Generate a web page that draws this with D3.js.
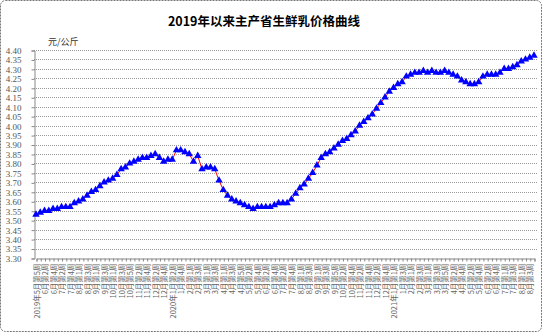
<!DOCTYPE html>
<html>
<head>
<meta charset="utf-8">
<script src="https://cdn.jsdelivr.net/npm/d3@7"></script>
<style>
  body { margin: 0; background: #fff; }
  svg { display: block; }
</style>
</head>
<body>
<div id="chart"></div>
<script>
"use strict";

// weekly price, 元/公斤
const prices = [
  3.53, 3.54, 3.55, 3.55, 3.56, 3.56, 3.57, 3.57, 3.57, 3.59, 3.60, 3.61, 3.63, 3.65, 3.66, 3.68,
  3.70, 3.71, 3.72, 3.74, 3.77, 3.78, 3.80, 3.81, 3.82, 3.83, 3.83, 3.84, 3.85, 3.83, 3.81, 3.82,
  3.82, 3.87, 3.87, 3.86, 3.85, 3.81, 3.84, 3.77, 3.78, 3.78, 3.77, 3.71, 3.66, 3.63, 3.61, 3.60,
  3.59, 3.58, 3.57, 3.56, 3.57, 3.57, 3.57, 3.57, 3.58, 3.59, 3.59, 3.59, 3.61, 3.64, 3.67, 3.69,
  3.72, 3.75, 3.79, 3.83, 3.85, 3.86, 3.88, 3.90, 3.92, 3.93, 3.95, 3.97, 4.00, 4.02, 4.04, 4.06,
  4.09, 4.12, 4.15, 4.18, 4.20, 4.22, 4.23, 4.26, 4.27, 4.28, 4.28, 4.29, 4.28, 4.29, 4.28,
  4.28, 4.29, 4.28, 4.27, 4.26, 4.24, 4.23, 4.22, 4.22, 4.23, 4.26, 4.27, 4.27, 4.27, 4.28,
  4.30, 4.30, 4.31, 4.32, 4.34, 4.35, 4.36, 4.37
];

// one label every second week
const weekLabels = [
  "2019年5月第5周", "6月第2周", "6月第4周", "7月第2周", "7月第4周", "8月第1周", "8月第3周",
  "9月第1周", "9月第3周", "10月第1周", "10月第3周", "10月第5周", "11月第2周", "11月第4周",
  "12月第2周", "12月第4周", "2020年1月第2周", "1月第4周", "2月第1周", "2月第3周", "3月第1周",
  "3月第3周", "4月第1周", "4月第3周", "4月第5周", "5月第2周", "5月第4周", "6月第2周", "6月第4周",
  "7月第2周", "7月第4周", "8月第1周", "8月第3周", "9月第1周", "9月第3周", "9月第5周", "10月第2周",
  "10月第4周", "11月第2周", "11月第4周", "12月第2周", "12月第4周", "2021年1月第1周", "1月第3周",
  "2月第1周", "2月第3周", "3月第1周", "3月第3周", "3月第5周", "4月第2周", "4月第4周", "5月第2周",
  "5月第4周", "6月第2周", "6月第4周", "7月第1周", "7月第3周", "8月第1周", "8月第3周"
];

const yTicks = [
  3.30, 3.35, 3.40, 3.45, 3.50, 3.55, 3.60, 3.65, 3.70, 3.75, 3.80, 3.85,
  3.90, 3.95, 4.00, 4.05, 4.10, 4.15, 4.20, 4.25, 4.30, 4.35, 4.40
];

const titleText = "2019年以来主产省生鲜乳价格曲线";
const unitText = "元/公斤";

const W = 542, H = 332;
const plot = { left: 34, right: 538, top: 50, bottom: 258 };

const svg = d3.select("#chart").append("svg")
  .attr("width", W).attr("height", H);

// outer frame
svg.append("rect")
  .attr("x", 0.5).attr("y", 0.5)
  .attr("width", W - 1).attr("height", H - 1)
  .attr("rx", 5)
  .attr("fill", "#fff")
  .attr("stroke", "#777")
  .attr("stroke-dasharray", "2,1");

svg.append("text")
  .attr("x", 264).attr("y", 26)
  .attr("text-anchor", "middle")
  .style("font-family", "'Noto Sans CJK SC', sans-serif")
  .style("font-size", "12.5px")
  .style("font-weight", "bold")
  .text(titleText);

svg.append("text")
  .attr("x", 48).attr("y", 45)
  .style("font-family", "'Noto Sans CJK SC', serif")
  .style("font-size", "9px")
  .attr("fill", "#333")
  .text(unitText);

const x = d3.scaleLinear().domain([0, prices.length - 1]).range([36, 534]);
const y = d3.scaleLinear().domain([3.30, 4.40]).range([plot.bottom, plot.top]);

// grid lines
svg.append("g")
  .selectAll("line")
  .data(yTicks.slice(1))
  .enter()
  .append("line")
  .attr("x1", plot.left).attr("x2", plot.right)
  .attr("y1", (d) => Math.round(y(d)) + 0.5)
  .attr("y2", (d) => Math.round(y(d)) + 0.5)
  .attr("stroke", "#9a9a9a")
  .attr("stroke-dasharray", "1,1");

// y axis
const yAxis = svg.append("g")
  .attr("transform", `translate(${plot.left + 0.5},0.5)`)
  .call(d3.axisLeft(y).tickValues(yTicks).tickSize(3).tickPadding(10)
    .tickFormat((d) => d.toFixed(2)));
yAxis.select(".domain").attr("stroke", "#888");
yAxis.selectAll(".tick line").attr("stroke", "#888");
yAxis.selectAll("text")
  .style("font-family", "'Liberation Serif', serif")
  .style("font-size", "9px")
  .attr("fill", "#555");

// x axis: tick per week, label every second week
const xAxis = svg.append("g")
  .attr("transform", `translate(0.5,${plot.bottom + 0.5})`)
  .call(d3.axisBottom(x).tickValues(d3.range(prices.length)).tickSize(3)
    .tickFormat((d) => (d % 2 === 0 ? weekLabels[d / 2] || "" : "")));
xAxis.select(".domain").attr("stroke", "#888");
xAxis.selectAll(".tick line").attr("stroke", "#888");
xAxis.selectAll("text")
  .attr("transform", "rotate(-90)")
  .attr("x", -5).attr("y", 0).attr("dy", "0.35em")
  .attr("text-anchor", "end")
  .style("font-family", "'Noto Sans CJK SC', sans-serif")
  .style("font-size", "7.5px")
  .attr("fill", "#666");

// price line
const line = d3.line()
  .x((d, i) => x(i))
  .y((d) => y(d));

svg.append("path")
  .datum(prices)
  .attr("d", line)
  .attr("fill", "none")
  .attr("stroke", "#ff0000")
  .attr("stroke-width", 1);

svg.append("g")
  .selectAll("path")
  .data(prices)
  .enter()
  .append("path")
  .attr("d", d3.symbol(d3.symbolTriangle, 24))
  .attr("transform", (d, i) => `translate(${x(i)},${y(d)})`)
  .attr("fill", "#0000ff");
</script>
</body>
</html>
